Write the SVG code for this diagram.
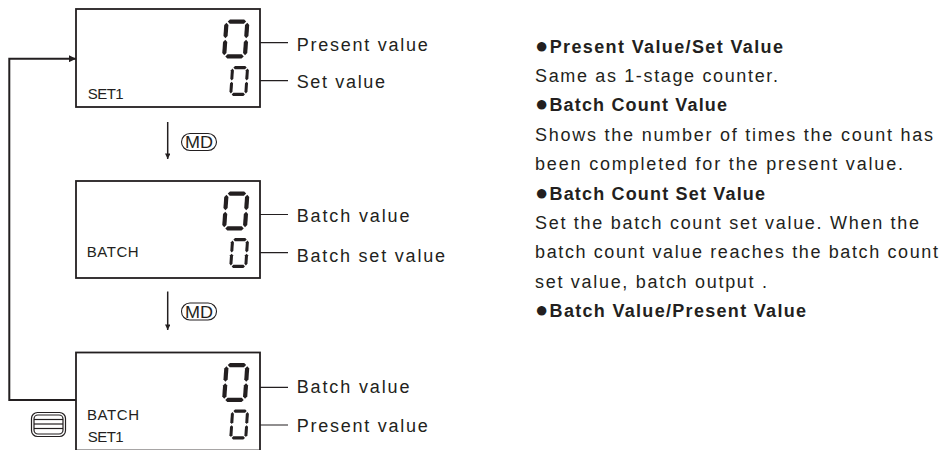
<svg xmlns="http://www.w3.org/2000/svg" width="949" height="450" viewBox="0 0 949 450">
<style>
text{font-family:"Liberation Sans",Arial,sans-serif;fill:#231f20}
.lbl{font-size:18px}
.hd{font-size:18px;font-weight:bold}
.bul{font-size:22px;font-weight:normal}
.bx{font-size:15px}
.md{font-size:16.5px}
.frame{fill:#fff;stroke:#231f20;stroke-width:1.8}
.seg{fill:#231f20}
.lead{stroke:#231f20;stroke-width:1.2;fill:none}
.loop{stroke:#231f20;stroke-width:2;fill:none}
.mdarr{stroke:#231f20;stroke-width:1.5;fill:none}
.pill{fill:none;stroke:#231f20;stroke-width:1.1}
.icon{fill:none;stroke:#231f20;stroke-width:1.2}
</style>
<defs>
<g id="d0" class="seg" transform="translate(1.6,0) skewX(-4)">
<polygon points="3.3,2.1 5.4,0 19.6,0 21.7,2.1 19.6,4.2 5.4,4.2"/>
<polygon points="3.3,36.9 5.4,34.8 19.6,34.8 21.7,36.9 19.6,39 5.4,39"/>
<polygon points="2.1,3.3 4.2,5.4 4.2,16.6 2.1,18.7 0,16.6 0,5.4"/>
<polygon points="2.1,20.3 4.2,22.4 4.2,33.6 2.1,35.7 0,33.6 0,22.4"/>
<polygon points="22.9,3.3 25,5.4 25,16.6 22.9,18.7 20.8,16.6 20.8,5.4"/>
<polygon points="22.9,20.3 25,22.4 25,33.6 22.9,35.7 20.8,33.6 20.8,22.4"/>
</g>
<marker id="ahs" viewBox="0 0 10 10" refX="10" refY="5" markerWidth="6" markerHeight="5" markerUnits="userSpaceOnUse" orient="auto"><path d="M0,0 L10,5 L0,10z" fill="#231f20"/></marker>
<marker id="ahl" viewBox="0 0 10 10" refX="10" refY="5" markerWidth="7" markerHeight="7" markerUnits="userSpaceOnUse" orient="auto"><path d="M0,0 L10,5 L0,10z" fill="#231f20"/></marker>
<marker id="ahm" viewBox="0 0 10 10" refX="10" refY="5" markerWidth="8" markerHeight="5.5" markerUnits="userSpaceOnUse" orient="auto"><path d="M0,0 L10,5 L0,10z" fill="#231f20"/></marker>
</defs>

<g id="connectors">
<polyline class="loop" points="76,400 9.3,400 9.3,58.7 76,58.7" marker-end="url(#ahl)"/>
<line class="mdarr" x1="167.7" y1="122" x2="167.7" y2="159" marker-end="url(#ahm)"/>
<line class="mdarr" x1="167.7" y1="291.5" x2="167.7" y2="330" marker-end="url(#ahm)"/>
<line class="lead" x1="288" y1="42.7" x2="251.5" y2="42.7" marker-end="url(#ahs)"/>
<line class="lead" x1="288" y1="80.7" x2="251.5" y2="80.7" marker-end="url(#ahs)"/>
<line class="lead" x1="288" y1="214.5" x2="251.5" y2="214.5" marker-end="url(#ahs)"/>
<line class="lead" x1="288" y1="252.7" x2="251.5" y2="252.7" marker-end="url(#ahs)"/>
<line class="lead" x1="288" y1="387.3" x2="251.5" y2="387.3" marker-end="url(#ahs)"/>
<line class="lead" x1="288" y1="425" x2="251.5" y2="425" marker-end="url(#ahs)"/>
</g>

<g id="md1">
<rect class="pill" x="181.5" y="133.5" width="35" height="17" rx="8.5"/>
<text class="md" x="199" y="148" text-anchor="middle" textLength="28" lengthAdjust="spacingAndGlyphs">MD</text>
</g>
<g id="md2">
<rect class="pill" x="181.5" y="303" width="35" height="17" rx="8.5"/>
<text class="md" x="199" y="317.5" text-anchor="middle" textLength="28" lengthAdjust="spacingAndGlyphs">MD</text>
</g>

<g id="display1">
<rect class="frame" x="76" y="9" width="184" height="98"/>
<use href="#d0" transform="translate(223,19.5)"/>
<use href="#d0" transform="translate(230,66) scale(0.72,0.77)"/>
<text class="bx" x="87.7" y="99.3" textLength="36">SET1</text>
<text class="lbl" x="296.7" y="50.7" textLength="131">Present value</text>
<text class="lbl" x="296.7" y="87.5" textLength="88.3">Set value</text>
</g>

<g id="display2">
<rect class="frame" x="76" y="181" width="184" height="97"/>
<use href="#d0" transform="translate(223,191.5)"/>
<use href="#d0" transform="translate(230,238) scale(0.72,0.77)"/>
<text class="bx" x="86.7" y="257" textLength="52">BATCH</text>
<text class="lbl" x="296.7" y="222.3" textLength="112.7">Batch value</text>
<text class="lbl" x="296.7" y="261.5" textLength="148.3">Batch set value</text>
</g>

<g id="display3">
<rect class="frame" x="76" y="352.5" width="184" height="98"/>
<use href="#d0" transform="translate(223,363)"/>
<use href="#d0" transform="translate(230,409.5) scale(0.72,0.77)"/>
<text class="bx" x="87" y="420" textLength="52">BATCH</text>
<text class="bx" x="87.7" y="442" textLength="36">SET1</text>
<text class="lbl" x="296.7" y="393" textLength="112.7">Batch value</text>
<text class="lbl" x="296.7" y="432" textLength="131">Present value</text>
</g>

<g id="key-icon">
<rect class="icon" x="31.5" y="412.5" width="34" height="24" rx="6"/>
<rect class="icon" x="34" y="415" width="29" height="19" rx="4"/>
<line class="icon" x1="34" y1="419.5" x2="63" y2="419.5"/>
<line class="icon" x1="34" y1="424" x2="63" y2="424"/>
<line class="icon" x1="34" y1="428.5" x2="63" y2="428.5"/>
</g>

<g id="description">
<text class="hd" x="535" y="52.5" textLength="248"><tspan class="bul">●</tspan>Present Value/Set Value</text>
<text class="lbl" x="535" y="81.9" textLength="243">Same as 1-stage counter.</text>
<text class="hd" x="535" y="111.3" textLength="192"><tspan class="bul">●</tspan>Batch Count Value</text>
<text class="lbl" x="535" y="140.7" textLength="398">Shows the number of times the count has</text>
<text class="lbl" x="535" y="170.1" textLength="368">been completed for the present value.</text>
<text class="hd" x="535" y="199.5" textLength="230"><tspan class="bul">●</tspan>Batch Count Set Value</text>
<text class="lbl" x="535" y="228.9" textLength="384">Set the batch count set value. When the</text>
<text class="lbl" x="535" y="258.3" textLength="403">batch count value reaches the batch count</text>
<text class="lbl" x="535" y="287.7" textLength="232">set value, batch output .</text>
<text class="hd" x="535" y="317.1" textLength="271"><tspan class="bul">●</tspan>Batch Value/Present Value</text>
</g>
</svg>
